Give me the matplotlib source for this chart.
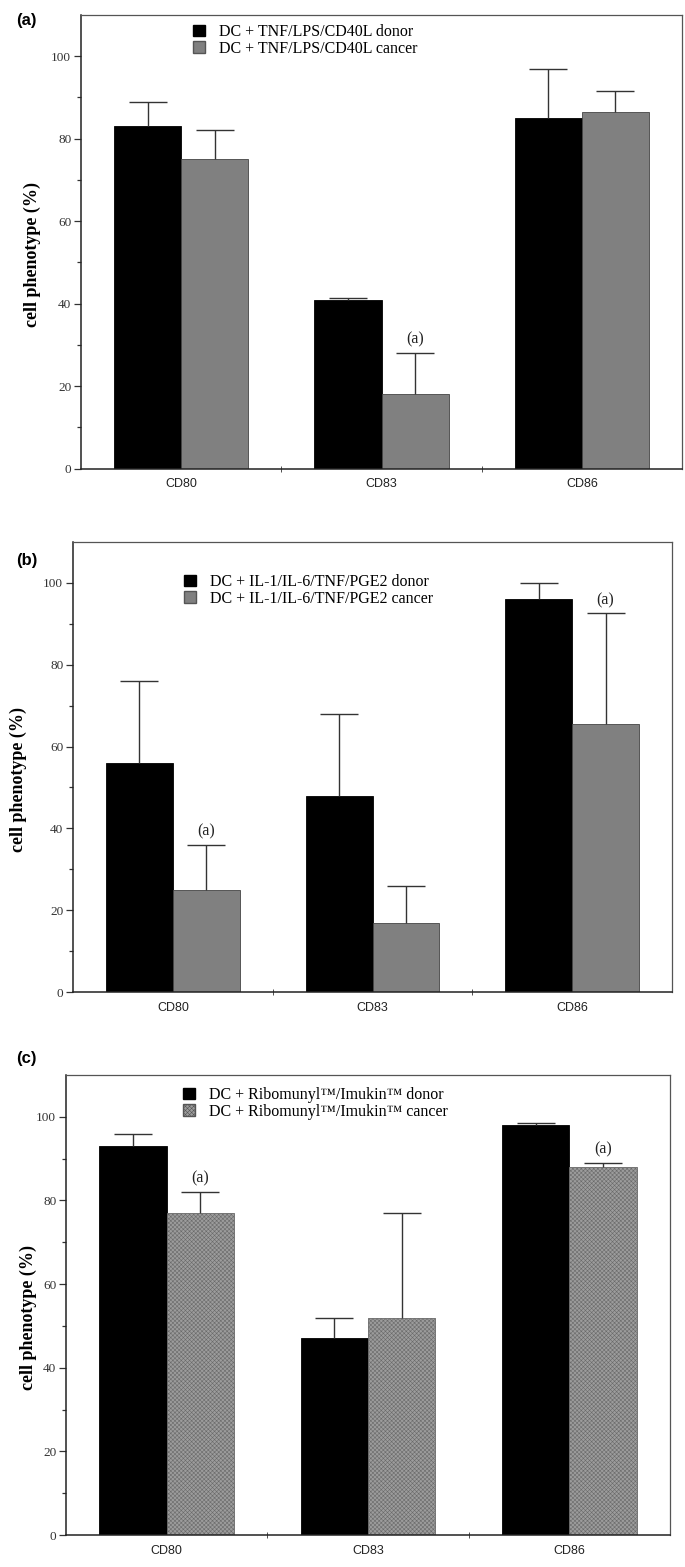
import matplotlib
matplotlib.use("Agg")
import matplotlib.pyplot as plt
import matplotlib.transforms as mtransforms
from matplotlib.patches import Patch
import numpy as np

categories = ['CD80', 'CD83', 'CD86']

a_donor = [83, 41, 85]
a_donor_err = [6, 0.5, 12]
a_cancer = [75, 18, 86.5]
a_cancer_err = [7, 10, 5]
a_sig = [False, True, False]

b_donor = [56, 48, 96]
b_donor_err = [20, 20, 4]
b_cancer = [25, 17, 65.5]
b_cancer_err = [11, 9, 27]
b_sig = [True, False, True]

c_donor = [93, 47, 98]
c_donor_err = [3, 5, 0.6]
c_cancer = [77, 52, 88]
c_cancer_err = [5, 25, 1]
c_sig = [True, False, True]

legend_a = ['DC + TNF/LPS/CD40L donor', 'DC + TNF/LPS/CD40L cancer']
legend_b = ['DC + IL-1/IL-6/TNF/PGE2 donor', 'DC + IL-1/IL-6/TNF/PGE2 cancer']
legend_c = ['DC + Ribomunyl\u2122/Imukin\u2122 donor', 'DC + Ribomunyl\u2122/Imukin\u2122 cancer']

W, H = 685, 1567
fig = plt.figure(figsize=(W / 100, H / 100), dpi=100)

SERIF = ['Liberation Serif', 'DejaVu Serif']
SANS = ['Liberation Sans', 'DejaVu Sans']
plt.rcParams['hatch.linewidth'] = 0.4


def px_axes(left, right, top, bottom):
    return fig.add_axes([left / W, 1 - bottom / H, (right - left) / W, (bottom - top) / H])


def upper_err(ax, x, y, err):
    _, caps, _ = ax.errorbar(x, y, yerr=([0] * len(y), err), fmt='none', ecolor='#333333',
                             elinewidth=1.0, capsize=13.5, capthick=1.0, zorder=3)
    if len(caps) >= 2:
        caps[0].set_visible(False)


def panel(ax, donor, derr, cancer, cerr, sig, labels, letter, letter_xy, ylab_x,
          leg_anchor, hatched=False):
    x = np.arange(len(categories))
    bw = 0.335
    ax.bar(x - bw / 2, donor, bw, color='black', edgecolor='black', linewidth=0.6, zorder=2)
    if hatched:
        ax.bar(x + bw / 2, cancer, bw, color='#9c9c9c', edgecolor='#6a6a6a',
               linewidth=0.6, hatch='xxxxxxxx', zorder=2)
    else:
        ax.bar(x + bw / 2, cancer, bw, color='#808080', edgecolor='#444444', linewidth=0.6,
               zorder=2)
    upper_err(ax, x - bw / 2, donor, derr)
    upper_err(ax, x + bw / 2, cancer, cerr)
    for i, s in enumerate(sig):
        if s:
            ax.text(x[i] + bw / 2, cancer[i] + cerr[i] + 1.3, '(a)', ha='center',
                    va='bottom', family=SERIF, fontsize=11.5, color='#222222')
    ax.set_xlim(-0.5, 2.5)
    ax.set_ylim(0, 110)
    ax.set_yticks([0, 20, 40, 60, 80, 100])
    ax.set_yticks([10, 30, 50, 70, 90], minor=True)
    ax.set_xticks(x)
    ax.set_xticklabels(categories, family=SANS, fontsize=9, color='#222222')
    ax.set_xticks([0.5, 1.5], minor=True)
    ax.tick_params(axis='x', which='major', length=0, pad=7)
    ax.tick_params(axis='x', which='minor', length=4, direction='inout', color='#333333')
    ax.tick_params(axis='y', which='both', direction='out', color='#333333', width=0.9)
    ax.tick_params(axis='y', which='major', length=5, pad=2)
    ax.tick_params(axis='y', which='minor', length=3)
    for t in ax.get_yticklabels():
        t.set_family(SERIF)
        t.set_fontsize(9.5)
        t.set_color('#333333')
    for name, sp in ax.spines.items():
        sp.set_linewidth(1.1 if name in ('left', 'bottom') else 0.9)
        sp.set_color('#222222' if name in ('left', 'bottom') else '#555555')
    ax.set_ylabel('cell phenotype (%)', family=SERIF, fontweight='bold', fontsize=13)
    tr = mtransforms.blended_transform_factory(fig.transFigure, ax.transData)
    ax.yaxis.set_label_coords(ylab_x, 52, transform=tr)
    handles = [Patch(facecolor='black', edgecolor='black'),
               Patch(facecolor='#9c9c9c' if hatched else '#808080', edgecolor='#555555',
                     hatch='xxxxxxxx' if hatched else None)]
    ax.legend(handles, labels, loc='upper left', bbox_to_anchor=leg_anchor,
              bbox_transform=fig.transFigure, frameon=False,
              prop=dict(family=SERIF, size=11.5), handlelength=0.75,
              handleheight=0.75, handletextpad=0.9, labelspacing=0.05,
              borderpad=0, borderaxespad=0)
    fig.text(letter_xy[0] / W, 1 - letter_xy[1] / H, letter, family=SANS,
             fontweight='bold', fontsize=12, ha='left', va='center')


ax_a = px_axes(81, 682, 15, 468.7)
panel(ax_a, a_donor, a_donor_err, a_cancer, a_cancer_err, a_sig, legend_a, '(a)',
      (16, 20), 41 / W, (193 / W, 1 - 24 / H))

ax_b = px_axes(73, 672, 541.7, 992.3)
panel(ax_b, b_donor, b_donor_err, b_cancer, b_cancer_err, b_sig, legend_b, '(b)',
      (16, 560), 27 / W, (184 / W, 1 - 574 / H))

ax_c = px_axes(66, 670, 1075, 1535)
panel(ax_c, c_donor, c_donor_err, c_cancer, c_cancer_err, c_sig, legend_c, '(c)',
      (16, 1058), 37 / W, (183 / W, 1 - 1087 / H), hatched=True)

fig.savefig('out.png', dpi=100)
